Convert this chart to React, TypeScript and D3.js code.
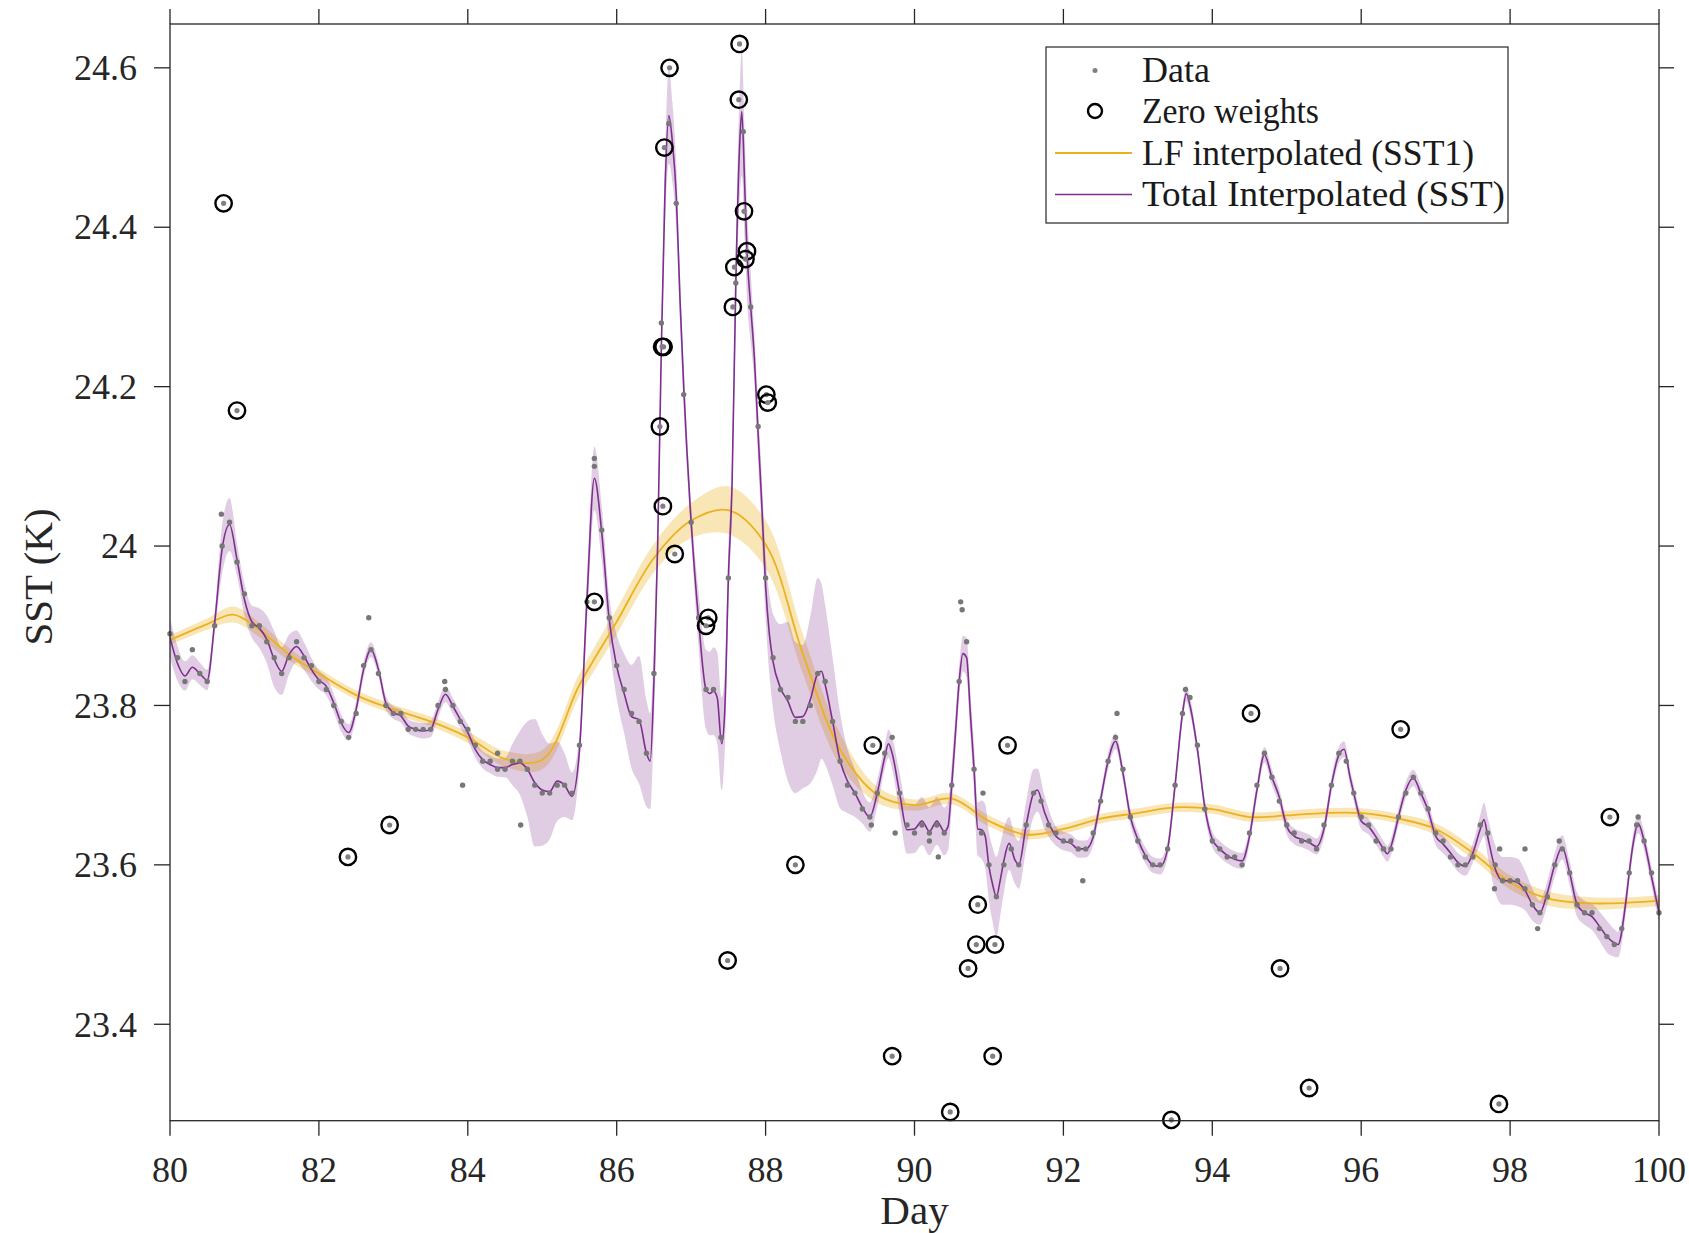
import React from "react";
import * as d3 from "d3";

// ---------------- data ----------------
const xTickValues = [80, 82, 84, 86, 88, 90, 92, 94, 96, 98, 100];
const yTickValues = [23.4, 23.6, 23.8, 24.0, 24.2, 24.4, 24.6];

// Total interpolated (SST): day / value
const totalDays = [
  80.0, 80.1, 80.2, 80.3, 80.4, 80.5, 80.6, 80.7, 80.8, 80.9,
  81.0, 81.1, 81.2, 81.3, 81.4, 81.5, 81.6, 81.7, 81.8, 81.9,
  82.0, 82.1, 82.2, 82.3, 82.4, 82.5, 82.6, 82.7, 82.8, 82.9,
  83.0, 83.1, 83.2, 83.3, 83.4, 83.5, 83.6, 83.7, 83.8, 83.9,
  84.0, 84.1, 84.2, 84.3, 84.4, 84.5, 84.6, 84.7, 84.8, 84.9,
  85.0, 85.1, 85.2, 85.3, 85.4, 85.5, 85.6, 85.7, 85.8, 85.9,
  86.0, 86.1, 86.2, 86.3, 86.4, 86.45, 86.5, 86.55, 86.6, 86.65,
  86.7, 86.75, 86.8, 86.85, 86.9, 87.0, 87.1, 87.2, 87.25, 87.3,
  87.35, 87.41, 87.45, 87.5, 87.55, 87.6, 87.65, 87.68, 87.72, 87.75,
  87.8, 87.85, 87.9, 87.95, 88.0, 88.05, 88.1, 88.2, 88.3, 88.4,
  88.5, 88.6, 88.7, 88.75, 88.8, 88.9, 89.0, 89.1, 89.2, 89.3,
  89.4, 89.5, 89.6, 89.65, 89.7, 89.8, 89.9, 90.0, 90.1, 90.2,
  90.3, 90.4, 90.45, 90.5, 90.55, 90.6, 90.65, 90.7, 90.75, 90.8,
  90.85, 90.9, 90.95, 91.0, 91.05, 91.1, 91.15, 91.2, 91.27, 91.35,
  91.4, 91.5, 91.6, 91.65, 91.75, 91.9, 92.0, 92.1, 92.2, 92.3,
  92.4, 92.5, 92.6, 92.7, 92.8, 92.9, 93.0, 93.1, 93.2, 93.3,
  93.4, 93.5, 93.6, 93.65, 93.7, 93.8, 93.9, 94.0, 94.1, 94.2,
  94.3, 94.4, 94.5, 94.6, 94.7, 94.8, 94.9, 95.0, 95.1, 95.2,
  95.3, 95.4, 95.5, 95.6, 95.7, 95.77, 95.85, 95.9, 96.0, 96.1,
  96.2, 96.3, 96.35, 96.45, 96.5, 96.6, 96.7, 96.8, 96.9, 97.0,
  97.1, 97.2, 97.3, 97.4, 97.5, 97.6, 97.65, 97.7, 97.8, 97.9,
  98.0, 98.1, 98.2, 98.3, 98.4, 98.5, 98.6, 98.7, 98.8, 98.9,
  99.0, 99.1, 99.2, 99.3, 99.4, 99.45, 99.55, 99.6, 99.65, 99.72,
  99.8, 99.9, 100.0,
];
const totalSST = [
  23.885, 23.853, 23.837, 23.848, 23.840, 23.832, 23.904, 23.996, 24.027, 23.983,
  23.933, 23.905, 23.897, 23.883, 23.858, 23.843, 23.864, 23.874, 23.862, 23.845,
  23.832, 23.824, 23.803, 23.778, 23.766, 23.795, 23.845, 23.870, 23.845, 23.803,
  23.791, 23.787, 23.774, 23.770, 23.768, 23.770, 23.795, 23.814, 23.799, 23.782,
  23.766, 23.745, 23.732, 23.726, 23.722, 23.722, 23.726, 23.728, 23.720, 23.703,
  23.694, 23.692, 23.705, 23.700, 23.686, 23.744, 23.932, 24.085, 24.016, 23.907,
  23.849, 23.815, 23.786, 23.782, 23.740, 23.730, 23.830, 24.000, 24.250, 24.450,
  24.540, 24.505, 24.440, 24.310, 24.200, 24.030, 23.907, 23.820, 23.815, 23.818,
  23.810, 23.752, 23.790, 23.960, 24.080, 24.330, 24.500, 24.545, 24.450, 24.370,
  24.300, 24.235, 24.140, 24.050, 23.950, 23.890, 23.855, 23.822, 23.805, 23.785,
  23.786, 23.807, 23.840, 23.843, 23.826, 23.780, 23.731, 23.705, 23.690, 23.672,
  23.660, 23.690, 23.735, 23.752, 23.740, 23.690, 23.644, 23.645, 23.655, 23.642,
  23.655, 23.642, 23.648, 23.700, 23.765, 23.830, 23.865, 23.860, 23.790, 23.720,
  23.645, 23.644, 23.636, 23.598, 23.575, 23.560, 23.580, 23.605, 23.627, 23.606,
  23.600, 23.650, 23.690, 23.694, 23.665, 23.636, 23.630, 23.627, 23.620, 23.620,
  23.635, 23.682, 23.730, 23.755, 23.715, 23.660, 23.632, 23.612, 23.600, 23.598,
  23.620, 23.700, 23.790, 23.815, 23.800, 23.745, 23.672, 23.632, 23.620, 23.612,
  23.607, 23.605, 23.636, 23.694, 23.738, 23.710, 23.685, 23.648, 23.636, 23.632,
  23.628, 23.623, 23.645, 23.700, 23.738, 23.745, 23.710, 23.690, 23.655, 23.648,
  23.635, 23.620, 23.614, 23.640, 23.660, 23.694, 23.709, 23.690, 23.668, 23.636,
  23.626, 23.615, 23.603, 23.598, 23.615, 23.645, 23.657, 23.635, 23.595, 23.580,
  23.580, 23.578, 23.568, 23.550, 23.540, 23.565, 23.600, 23.622, 23.590, 23.550,
  23.540, 23.535, 23.523, 23.510, 23.502, 23.500, 23.550, 23.590, 23.625, 23.652,
  23.630, 23.585, 23.540,
];

// uncertainty half-width of the total interpolation (knots)
const totalErrDays = [
  80.0, 80.3, 80.6, 80.75, 80.9, 81.1, 81.4, 81.7, 82.0, 82.5,
  83.0, 83.5, 84.0, 84.5, 84.7, 84.9, 85.1, 85.3, 85.5, 85.7,
  85.9, 86.1, 86.3, 86.45, 86.6, 86.7, 86.85, 87.0, 87.2, 87.4,
  87.55, 87.68, 87.85, 88.0, 88.1, 88.3, 88.5, 88.7, 88.9, 89.1,
  89.3, 89.6, 89.9, 90.2, 90.45, 90.6, 90.8, 91.1, 91.3, 91.6,
  91.9, 92.5, 93.5, 94.5, 95.5, 96.5, 97.5, 97.8, 98.1, 98.4,
  98.7, 99.0, 99.3, 99.6, 100.0,
];
const totalErr = [
  0.025, 0.015, 0.012, 0.04, 0.02, 0.02, 0.035, 0.02, 0.012, 0.01,
  0.008, 0.01, 0.01, 0.012, 0.04, 0.08, 0.06, 0.04, 0.02, 0.04,
  0.03, 0.05, 0.08, 0.06, 0.03, 0.06, 0.03, 0.02, 0.05, 0.06,
  0.03, 0.08, 0.03, 0.04, 0.06, 0.1, 0.09, 0.12, 0.08, 0.04,
  0.02, 0.015, 0.03, 0.03, 0.03, 0.02, 0.03, 0.05, 0.03, 0.03,
  0.012, 0.01, 0.01, 0.01, 0.01, 0.01, 0.012, 0.03, 0.03, 0.015,
  0.015, 0.015, 0.02, 0.012, 0.012,
];

// LF interpolated (SST1)
const lfDays = [
  80, 80.5, 80.85, 81.2, 81.6, 82, 82.5, 83, 83.5, 84, 84.5,
  85, 85.5, 86, 86.5, 87, 87.5, 88, 88.5, 89, 89.5,
  90, 90.5, 91, 91.5, 92, 92.5, 93, 93.5, 94, 94.5,
  95, 95.5, 96, 96.5, 97, 97.5, 98, 98.5, 99, 99.5, 100,
];
const lfSST = [
  23.882, 23.902, 23.914, 23.895, 23.864, 23.840, 23.813, 23.795, 23.780, 23.760, 23.733,
  23.732, 23.826, 23.905, 23.985, 24.032, 24.045, 24.002, 23.865, 23.745, 23.688,
  23.675, 23.683, 23.655, 23.638, 23.645, 23.658, 23.665, 23.672, 23.670, 23.660,
  23.662, 23.665, 23.665, 23.658, 23.645, 23.615, 23.578, 23.558, 23.552, 23.552, 23.555,
];
const lfErr = [
  0.006, 0.007, 0.01, 0.009, 0.008, 0.006, 0.006, 0.006, 0.006, 0.007, 0.01,
  0.012, 0.014, 0.016, 0.018, 0.022, 0.03, 0.03, 0.025, 0.02, 0.01,
  0.007, 0.007, 0.007, 0.006, 0.006, 0.006, 0.006, 0.006, 0.006, 0.006,
  0.006, 0.006, 0.006, 0.006, 0.007, 0.008, 0.009, 0.009, 0.008, 0.007, 0.007,
];

// Data (0.1-day sampling)
const dataStart = 80;
const dataStep = 0.1;
const dataSST = [
  23.89, 23.86, 23.83, 23.87, 23.84, 23.83, 23.90, 24.00, 24.03, 23.98,
  23.94, 23.90, 23.90, 23.88, 23.86, 23.84, 23.86, 23.88, 23.86, 23.85,
  23.83, 23.82, 23.80, 23.78, 23.76, 23.79, 23.85, 23.87, 23.84, 23.80,
  23.79, 23.79, 23.77, 23.77, 23.77, 23.77, 23.80, 23.82, 23.80, 23.78,
  23.77, 23.75, 23.73, 23.73, 23.72, 23.72, 23.73, 23.73, 23.72, 23.70,
  23.69, 23.69, 23.70, 23.70, 23.69, 23.75, 23.93, 24.10, 24.02, 23.91,
  23.85, 23.82, 23.79, 23.78, 23.74, 23.84, 24.28, 24.53, 24.43, 24.19,
  24.03, 23.91, 23.82, 23.82, 23.76, 23.96, 24.33, 24.52, 24.30, 24.15,
  23.96, 23.86, 23.82, 23.81, 23.78, 23.78, 23.80, 23.84, 23.83, 23.78,
  23.73, 23.70, 23.69, 23.67, 23.66, 23.69, 23.74, 23.76, 23.69, 23.65,
  23.64, 23.65, 23.64, 23.65, 23.64, 23.70, 23.83, 23.88, 23.72, 23.64,
  23.60, 23.56, 23.60, 23.62, 23.60, 23.65, 23.69, 23.68, 23.65, 23.64,
  23.63, 23.63, 23.62, 23.62, 23.64, 23.68, 23.73, 23.76, 23.72, 23.66,
  23.63, 23.61, 23.60, 23.60, 23.62, 23.70, 23.79, 23.81, 23.75, 23.67,
  23.63, 23.62, 23.61, 23.61, 23.60, 23.64, 23.70, 23.74, 23.71, 23.68,
  23.65, 23.64, 23.63, 23.63, 23.62, 23.65, 23.70, 23.74, 23.73, 23.69,
  23.66, 23.65, 23.63, 23.62, 23.62, 23.66, 23.69, 23.71, 23.69, 23.67,
  23.64, 23.63, 23.61, 23.60, 23.60, 23.61, 23.65, 23.64, 23.60, 23.58,
  23.58, 23.58, 23.57, 23.55, 23.54, 23.56, 23.60, 23.62, 23.59, 23.55,
  23.54, 23.54, 23.52, 23.51, 23.50, 23.52, 23.59, 23.65, 23.63, 23.59,
  23.54,
];
// extra data points off the curve
const extraDays = [80.69, 82.67, 83.69, 83.93, 84.4, 84.71, 85.7, 89.42, 89.74, 90.2, 90.32, 90.62, 90.64, 90.92, 92.26, 92.72, 93.64, 97.79, 97.86, 98.2, 98.37, 98.66, 99.72];
const extraSST = [24.04, 23.91, 23.83, 23.70, 23.74, 23.65, 24.11, 23.65, 23.64, 23.63, 23.61, 23.93, 23.92, 23.69, 23.58, 23.79, 23.82, 23.57, 23.62, 23.62, 23.52, 23.63, 23.66];

// Zero weight points
const zeroDays = [
  80.72, 80.90, 82.39, 82.95, 85.70, 86.58, 86.61, 86.63, 86.64, 86.71,
  86.62, 86.78, 87.23, 87.20, 87.49, 87.56, 87.58, 87.65, 87.64, 87.71,
  87.75, 87.73, 88.01, 88.03, 88.40, 89.44, 89.70, 90.48, 90.72, 90.83,
  90.85, 91.08, 91.05, 91.25, 93.45, 94.52, 94.91, 95.30, 96.53, 97.85, 99.34,
];
const zeroSST = [
  24.43, 24.17, 23.61, 23.65, 23.93, 24.15, 24.25, 24.25, 24.50, 24.60,
  24.05, 23.99, 23.91, 23.90, 23.48, 24.30, 24.35, 24.63, 24.56, 24.42,
  24.37, 24.36, 24.19, 24.18, 23.60, 23.75, 23.36, 23.29, 23.47, 23.50,
  23.55, 23.50, 23.36, 23.75, 23.28, 23.79, 23.47, 23.32, 23.77, 23.30, 23.66,
];

const legendLabels = ["Data", "Zero weights", "LF interpolated (SST1)", "Total Interpolated (SST)"];
const legendWidths = [68, 177, 332, 363];

// ---------------- chart ----------------
const W = 1689;
const H = 1233;
const PL = 170, PR = 1659, PT = 24, PB = 1120.7;

const PURPLE = "#7E2F8E";
const YELLOW = "#EDB120";
const AXIS = "#262626";
const FONT = "'Liberation Serif', 'Times New Roman', serif";

export default function App() {
  const x = d3.scaleLinear().domain([80, 100]).range([PL, PR]);
  const y = d3.scaleLinear().domain([23.279, 24.655]).range([PB, PT]);

  const errScale = d3.scaleLinear().domain(totalErrDays).range(totalErr).clamp(true);

  const total = totalDays.map((d, i) => ({ d, v: totalSST[i], e: errScale(d) }));
  const lf = lfDays.map((d, i) => ({ d, v: lfSST[i], e: lfErr[i] }));
  const data = dataSST.map((v, i) => ({ d: dataStart + i * dataStep, v }));
  const extras = extraDays.map((d, i) => ({ d, v: extraSST[i] }));
  const zeros = zeroDays.map((d, i) => ({ d, v: zeroSST[i] }));

  const totalLine = d3.line<any>().x((p) => x(p.d)).y((p) => y(p.v)).curve(d3.curveMonotoneX);
  const totalArea = d3
    .area<any>()
    .x((p) => x(p.d))
    .y0((p) => y(p.v - p.e))
    .y1((p) => y(p.v + p.e))
    .curve(d3.curveMonotoneX);
  const lfCurve = d3.curveCatmullRom.alpha(0.5);
  const lfLine = d3.line<any>().x((p) => x(p.d)).y((p) => y(p.v)).curve(lfCurve);
  const lfArea = d3
    .area<any>()
    .x((p) => x(p.d))
    .y0((p) => y(p.v - p.e))
    .y1((p) => y(p.v + p.e))
    .curve(lfCurve);

  const fmtY = (v: number) => (Math.abs(v - Math.round(v)) < 1e-9 ? String(Math.round(v)) : v.toFixed(1));

  const lgX = 1046, lgY = 47, lgW = 462, lgH = 176;
  const rowY = [70.5, 111, 153, 194.5];

  return (
    <div style={{ position: "absolute", left: 0, top: 0 }}>
      <svg width={W} height={H} viewBox={`0 0 ${W} ${H}`} style={{ display: "block", background: "#fff" }}>
        <rect x={0} y={0} width={W} height={H} fill="#fff" />
        <defs>
          <clipPath id="plotClip">
            <rect x={PL} y={PT} width={PR - PL} height={PB - PT} />
          </clipPath>
        </defs>

        <g clipPath="url(#plotClip)">
          <path d={lfArea(lf) || ""} fill={YELLOW} fillOpacity={0.32} stroke="none" />
          <path d={totalArea(total) || ""} fill={PURPLE} fillOpacity={0.24} stroke="none" />
          <path d={lfLine(lf) || ""} fill="none" stroke={YELLOW} strokeWidth={1.8} />
          <path d={totalLine(total) || ""} fill="none" stroke={PURPLE} strokeWidth={1.6} />
        </g>

        {data.map((p, i) => (
          <circle key={"d" + i} cx={x(p.d)} cy={y(p.v)} r={2.7} fill="#777777" />
        ))}
        {extras.map((p, i) => (
          <circle key={"e" + i} cx={x(p.d)} cy={y(p.v)} r={2.7} fill="#777777" />
        ))}
        {zeros.map((p, i) => (
          <g key={"z" + i}>
            <circle cx={x(p.d)} cy={y(p.v)} r={2.6} fill="#808080" />
            <circle cx={x(p.d)} cy={y(p.v)} r={8.2} fill="none" stroke="#000" strokeWidth={2.4} />
          </g>
        ))}

        {/* frame */}
        <rect x={PL} y={PT} width={PR - PL} height={PB - PT} fill="none" stroke={AXIS} strokeWidth={1.3} />

        {/* x ticks (bottom and top, outward) */}
        {xTickValues.map((t) => (
          <g key={"xt" + t}>
            <line x1={x(t)} x2={x(t)} y1={PB} y2={PB + 15} stroke={AXIS} strokeWidth={1.3} />
            <line x1={x(t)} x2={x(t)} y1={PT} y2={PT - 15} stroke={AXIS} strokeWidth={1.3} />
            <text x={x(t)} y={1182} textAnchor="middle" fontFamily={FONT} fontSize={36} fill="#262626">
              {t}
            </text>
          </g>
        ))}
        {/* y ticks (left and right, outward) */}
        {yTickValues.map((t) => (
          <g key={"yt" + t}>
            <line x1={PL - 16} x2={PL} y1={y(t)} y2={y(t)} stroke={AXIS} strokeWidth={1.3} />
            <line x1={PR} x2={PR + 15} y1={y(t)} y2={y(t)} stroke={AXIS} strokeWidth={1.3} />
            <text x={137} y={y(t)} dy="0.34em" textAnchor="end" fontFamily={FONT} fontSize={36} fill="#262626">
              {fmtY(t)}
            </text>
          </g>
        ))}

        {/* axis labels */}
        <text x={x(90)} y={1224} textAnchor="middle" fontFamily={FONT} fontSize={41} fill="#262626">
          Day
        </text>
        <text
          transform={`translate(52, ${577}) rotate(-90)`}
          textAnchor="middle"
          fontFamily={FONT}
          fontSize={41}
          fill="#262626"
        >
          SST (K)
        </text>

        {/* legend */}
        <rect x={lgX} y={lgY} width={lgW} height={lgH} fill="#fff" stroke={AXIS} strokeWidth={1.2} />
        <circle cx={1095} cy={rowY[0]} r={2.5} fill="#808080" />
        <circle cx={1095} cy={rowY[1]} r={7} fill="none" stroke="#000" strokeWidth={2.4} />
        <line x1={1055} x2={1132} y1={rowY[2]} y2={rowY[2]} stroke={YELLOW} strokeWidth={1.8} />
        <line x1={1055} x2={1132} y1={rowY[3]} y2={rowY[3]} stroke={PURPLE} strokeWidth={1.6} />
        {legendLabels.map((s, i) => (
          <text
            key={s}
            x={1142}
            y={rowY[i]}
            dy="0.33em"
            fontFamily={FONT}
            fontSize={35}
            fill="#1a1a1a"
            textLength={legendWidths[i]}
            lengthAdjust="spacingAndGlyphs"
          >
            {s}
          </text>
        ))}
      </svg>
    </div>
  );
}
